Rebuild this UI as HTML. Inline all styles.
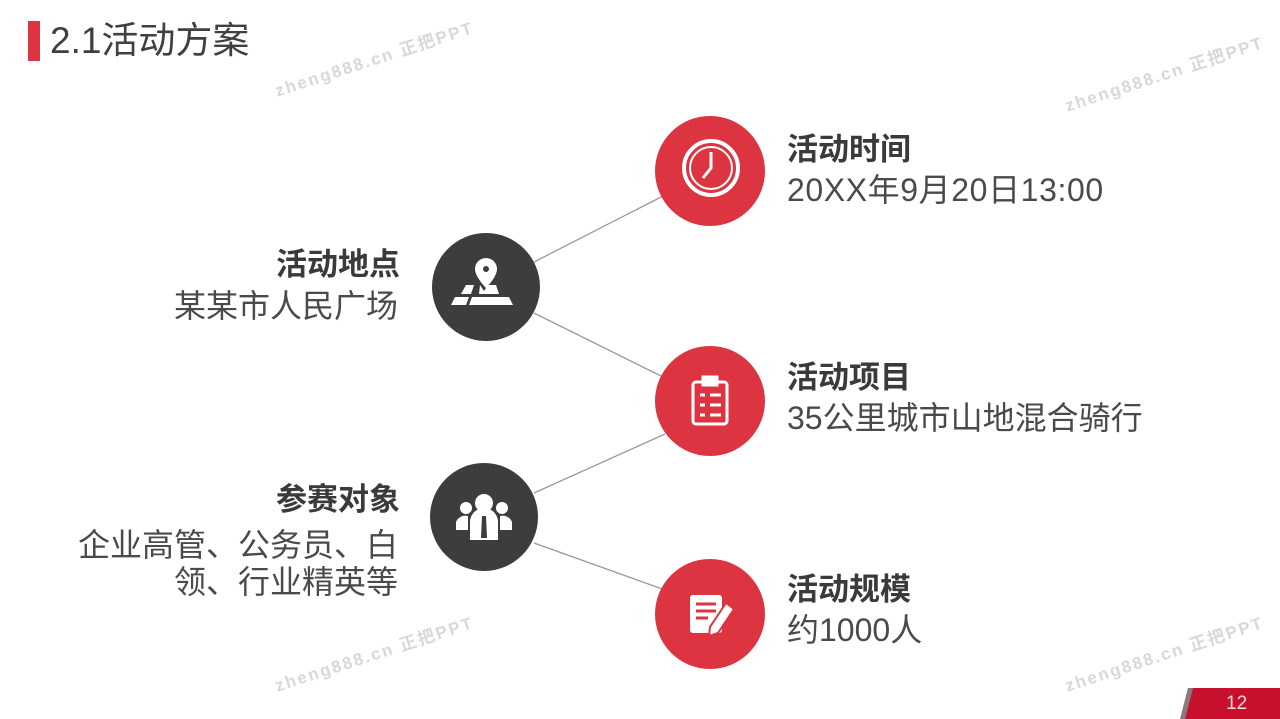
<!DOCTYPE html>
<html><head><meta charset="utf-8"><style>
body{margin:0;width:1280px;height:719px;overflow:hidden;background:#fff;position:relative;font-family:"Liberation Sans","Noto Sans CJK SC",sans-serif;color:#404040}
.t{position:absolute;white-space:nowrap;line-height:1}
.b{font-weight:bold;font-size:31px;color:#3a3a3a}
.n{font-size:32px;color:#4a4a4a}
.r{text-align:right}
.wm{position:absolute;color:#d8d8d8;font-size:17px;font-weight:bold;letter-spacing:2px;transform:rotate(-18deg);white-space:nowrap}
</style></head><body>
<div style="position:absolute;left:28px;top:21px;width:12px;height:40px;background:#dc3440"></div>
<div class="t" style="left:50px;top:22px;font-size:37px;color:#404040">2.1活动方案</div>
<div class="wm" style="left:270px;top:45px">zheng888.cn 正把PPT</div>
<div class="wm" style="left:1060px;top:60px">zheng888.cn 正把PPT</div>
<div class="wm" style="left:270px;top:640px">zheng888.cn 正把PPT</div>
<div class="wm" style="left:1060px;top:640px">zheng888.cn 正把PPT</div>
<svg width="1280" height="719" style="position:absolute;left:0;top:0">
<g stroke="#999" stroke-width="1.3">
<line x1="534" y1="262" x2="665" y2="195"/>
<line x1="534" y1="313" x2="665" y2="378"/>
<line x1="534" y1="493" x2="665" y2="434"/>
<line x1="534" y1="543" x2="665" y2="590"/>
</g>
<circle cx="710" cy="171" r="55" fill="#dc3440"/>
<circle cx="710" cy="401" r="55" fill="#dc3440"/>
<circle cx="710" cy="614" r="55" fill="#dc3440"/>
<circle cx="486" cy="287" r="54" fill="#3d3d3d"/>
<circle cx="484" cy="517" r="54" fill="#3d3d3d"/>
<g fill="none" stroke="#fff">
<circle cx="711" cy="168" r="27" stroke-width="4"/>
<circle cx="711" cy="168" r="21" stroke-width="2"/>
<path d="M711 152V168L703 178" stroke-width="3"/>
</g>
<g fill="#fff">
<path d="M486 258a11 11 0 0 1 11 11c0 8-11 19-11 19s-11-11-11-19a11 11 0 0 1 11-11z"/>
<circle cx="486" cy="269" r="3" fill="#3d3d3d"/>
<path d="M466 285h8l-3 9h-10zM480 285l4 6 4-6h8l3 9h-20zM455 297h14l-3 8h-15zM472 297h37l4 8h-44z"/>
</g>
<g fill="none" stroke="#fff" stroke-width="3">
<rect x="693" y="382" width="34" height="42" rx="3"/>
<rect x="703" y="377" width="14" height="8" fill="#fff"/>
<path d="M700 395h5M700 405h5M700 415h5M710 395h11M710 405h11M710 415h11"/>
</g>
<g fill="#fff">
<circle cx="484" cy="503" r="9"/><circle cx="466" cy="508" r="6"/><circle cx="502" cy="508" r="6"/>
<path d="M470 540v-18a14 14 0 0 1 28 0v18z"/>
<path d="M456 530v-8a10 10 0 0 1 12-6v14zM512 530v-8a10 10 0 0 0-12-6v14z"/>
<path d="M482 516h4l1 22h-6z" fill="#3d3d3d"/>
</g>
<g>
<rect x="690" y="595" width="32" height="38" rx="3" fill="#fff"/>
<path d="M696 604h20M696 611h20M696 618h12" stroke="#dc3440" stroke-width="3"/>
<path d="M726 603l8 6-16 24-9 3 1-9z" fill="#fff" stroke="#dc3440" stroke-width="2"/>
</g>
<polygon points="1192,688 1280,688 1280,719 1184,719" fill="#c8102e"/>
<polygon points="1188,688 1193,688 1185,719 1180,719" fill="#8a7a7a"/>
</svg>
<div class="t" style="left:1226px;top:694px;font-size:19px;color:#f2dada">12</div>
<div class="t b" style="left:787px;top:134px">活动时间</div>
<div class="t n" style="left:787px;top:174px;letter-spacing:0.6px">20XX年9月20日13:00</div>
<div class="t b" style="left:787px;top:362px">活动项目</div>
<div class="t n" style="left:787px;top:402px">35公里城市山地混合骑行</div>
<div class="t b" style="left:787px;top:574px">活动规模</div>
<div class="t n" style="left:787px;top:614px">约1000人</div>
<div class="t b r" style="right:880px;top:249px">活动地点</div>
<div class="t n r" style="right:882px;top:290px">某某市人民广场</div>
<div class="t b r" style="right:880px;top:484px">参赛对象</div>
<div class="t n r" style="right:882px;top:527px;line-height:37px">企业高管、公务员、白<br>领、行业精英等</div>
</body></html>
